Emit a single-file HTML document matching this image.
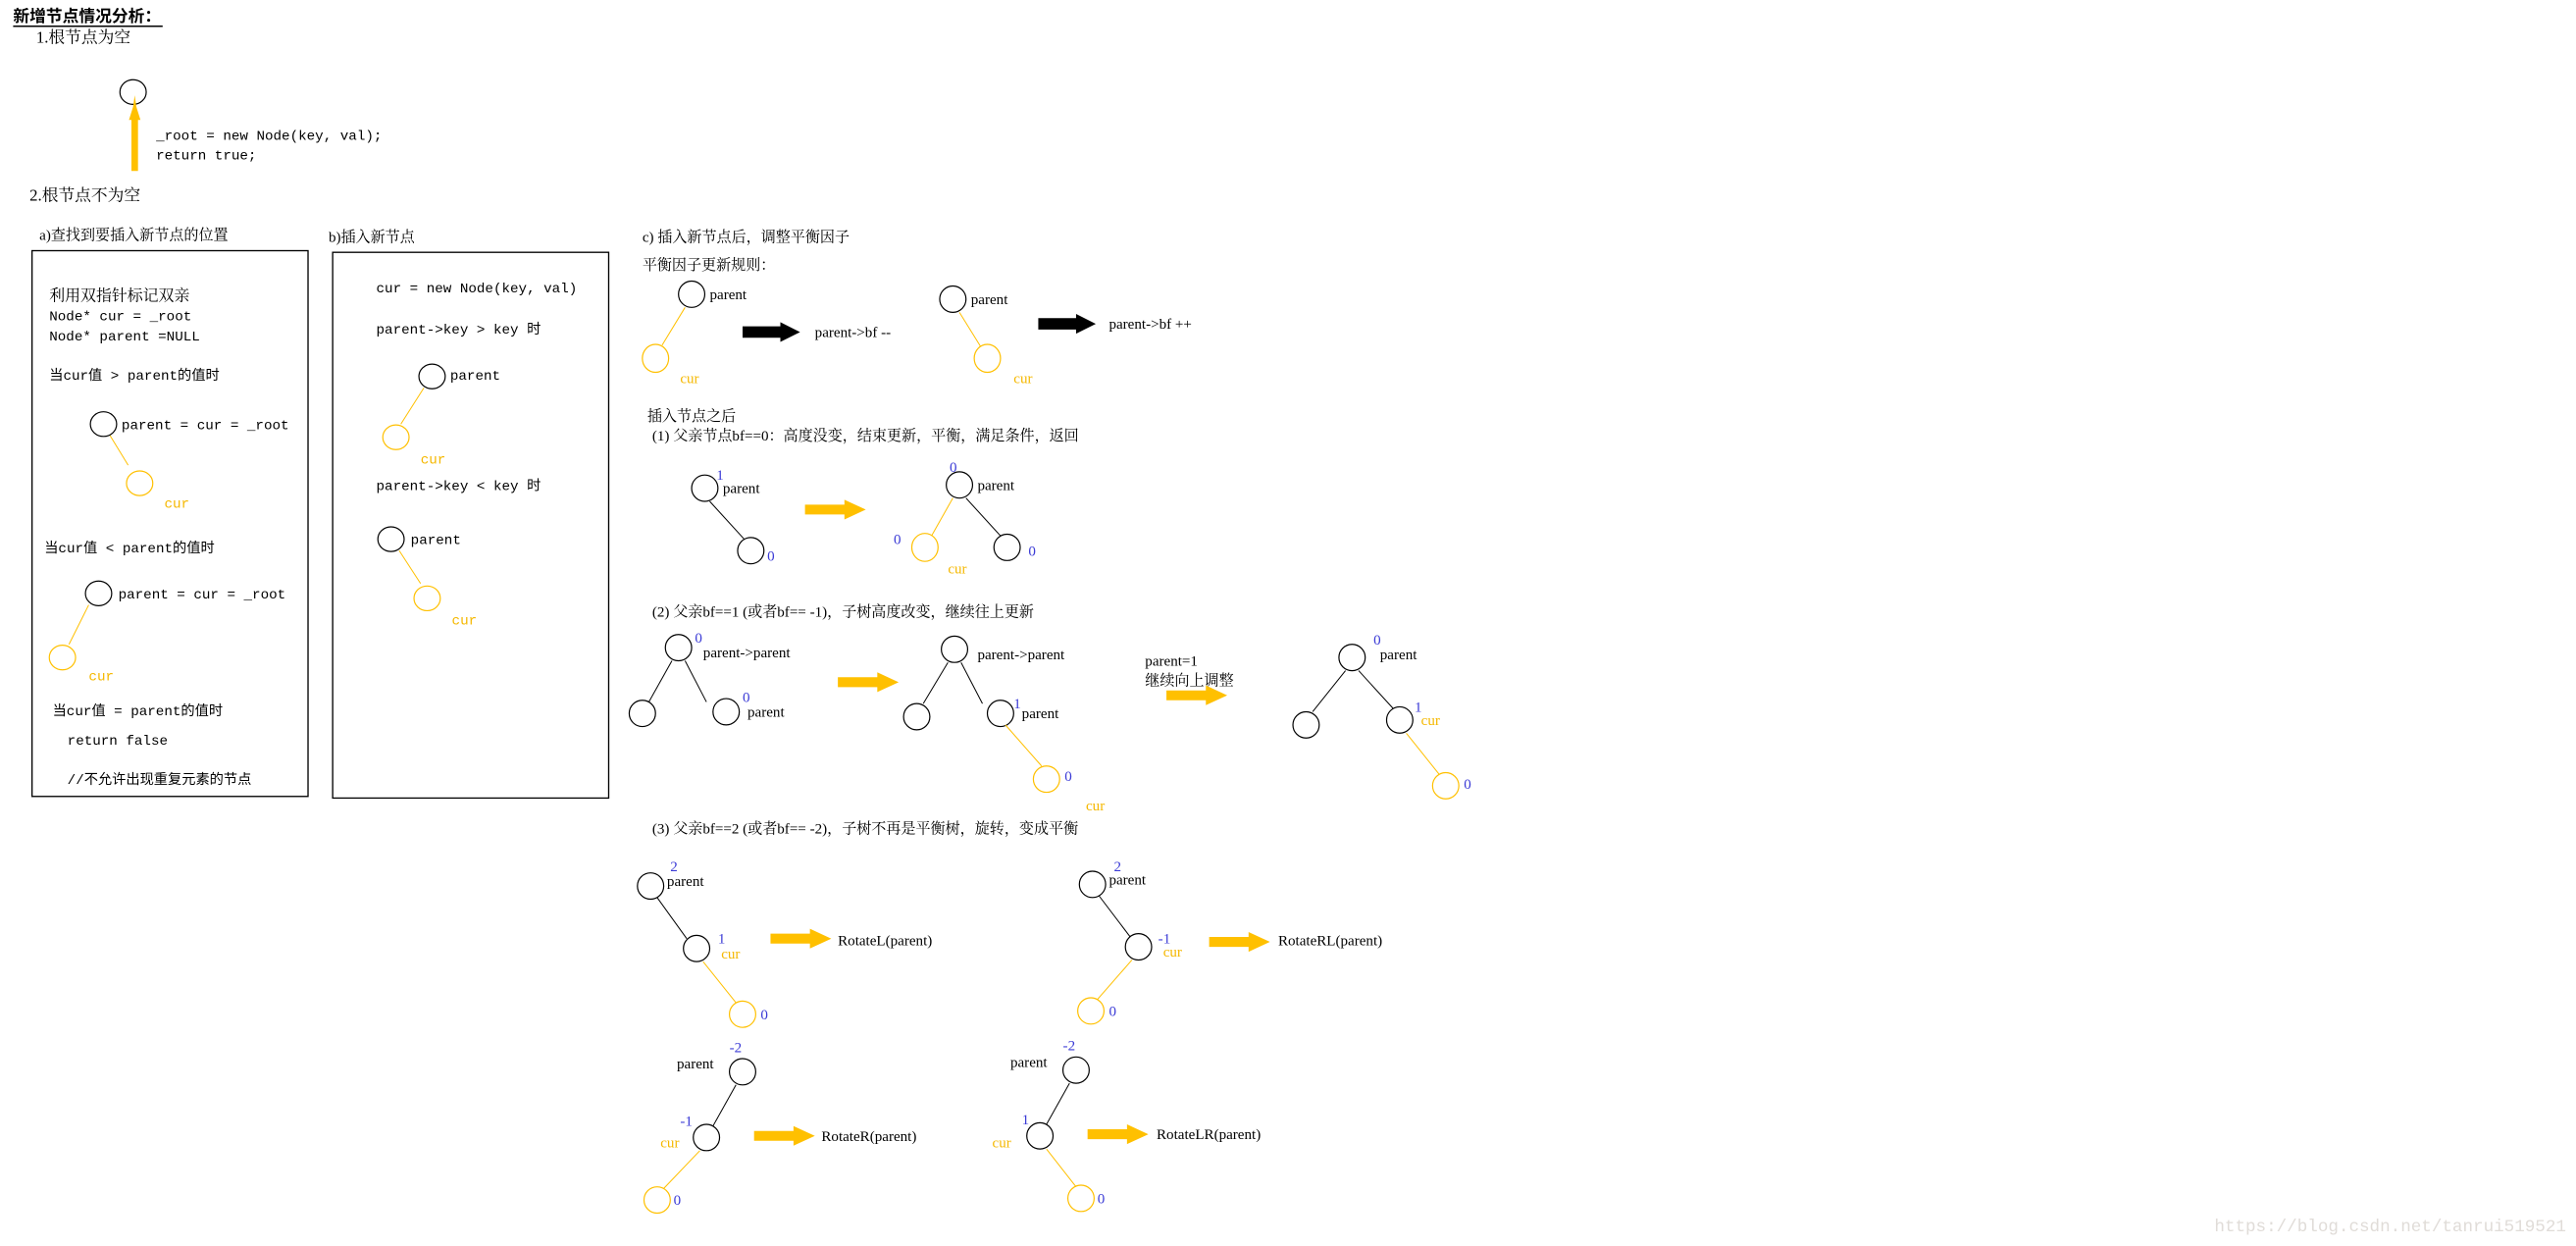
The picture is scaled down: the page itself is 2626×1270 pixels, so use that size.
<!DOCTYPE html>
<html><head><meta charset="utf-8">
<style>
html,body{margin:0;padding:0;background:#fff;}
svg{display:block;}
text{font-family:"Liberation Serif","Noto Serif CJK SC","Noto Sans CJK SC",serif;font-size:9px;fill:#000;}
.m{font-family:"Liberation Mono","Noto Sans CJK SC",monospace;font-size:8.5px;}
.y{fill:#f5b800;}
.b{fill:#3b3bd6;}
.n{fill:none;stroke:#000;stroke-width:1.2;vector-effect:non-scaling-stroke;}
.ny{fill:none;stroke:#ffc000;stroke-width:1.2;vector-effect:non-scaling-stroke;}
.l{stroke:#000;stroke-width:1;vector-effect:non-scaling-stroke;}
.ly{stroke:#ffc000;stroke-width:1;vector-effect:non-scaling-stroke;}
.ya{fill:#ffc000;}
</style></head><body>
<svg width="2626" height="1270" viewBox="0 0 1568 758" preserveAspectRatio="none" xmlns="http://www.w3.org/2000/svg">
<defs>
<g id="yarr"><path d="M0,-3 H24 V-6 L37,0 L24,6 V3 H0 Z"/></g>
<g id="barr"><path d="M0,-3.5 H23 V-6 L35,0 L23,6 V3.5 H0 Z"/></g>
</defs>

<text x="8" y="13" style="font-weight:bold;font-size:10px;font-family:'Noto Sans CJK SC',sans-serif">新增节点情况分析：</text>
<line x1="8" y1="16" x2="99" y2="16" stroke="#000" stroke-width="0.9"/>
<text x="22" y="26" style="font-size:10px">1.根节点为空</text>
<ellipse class="n" cx="81" cy="56" rx="8" ry="7.5"/>
<path class="ya" d="M80,104 H84 V73 H85.5 L83,65 L82,58 L81,65 L78.5,73 H80 Z"/>
<text class="m" x="95" y="85">_root = new Node(key, val);</text>
<text class="m" x="95" y="97">return true;</text>
<text x="18" y="122" style="font-size:10px">2.根节点不为空</text>

<text x="24" y="146">a)查找到要插入新节点的位置</text>
<rect x="19.5" y="152.5" width="168" height="332" fill="none" stroke="#000" stroke-width="0.8"/>
<text x="30" y="183" style="font-size:9.5px">利用双指针标记双亲</text>
<text class="m" x="30" y="195">Node* cur = _root</text>
<text class="m" x="30" y="207">Node* parent =NULL</text>
<text class="m" x="30" y="231">当cur值 &gt; parent的值时</text>
<ellipse class="n" cx="63" cy="258" rx="8" ry="7.5"/>
<text class="m" x="74" y="261">parent = cur = _root</text>
<line class="ly" x1="67" y1="265" x2="78" y2="283"/>
<ellipse class="ny" cx="85" cy="294" rx="8" ry="7.5"/>
<text class="m y" x="100" y="309">cur</text>
<text class="m" x="27" y="336">当cur值 &lt; parent的值时</text>
<ellipse class="n" cx="60" cy="361" rx="8" ry="7.5"/>
<text class="m" x="72" y="364">parent = cur = _root</text>
<line class="ly" x1="54" y1="368" x2="42" y2="392"/>
<ellipse class="ny" cx="38" cy="400" rx="8" ry="7.5"/>
<text class="m y" x="54" y="414">cur</text>
<text class="m" x="32" y="435">当cur值 = parent的值时</text>
<text class="m" x="41" y="453">return false</text>
<text class="m" x="41" y="477">//不允许出现重复元素的节点</text>

<text x="200" y="147">b)插入新节点</text>
<rect x="202.5" y="153.5" width="168" height="332" fill="none" stroke="#000" stroke-width="0.8"/>
<text class="m" x="229" y="178">cur = new Node(key, val)</text>
<text class="m" x="229" y="203">parent-&gt;key &gt; key 时</text>
<ellipse class="n" cx="263" cy="229" rx="8" ry="7.5"/>
<text class="m" x="274" y="231">parent</text>
<line class="ly" x1="258" y1="236" x2="244" y2="258"/>
<ellipse class="ny" cx="241" cy="266" rx="8" ry="7.5"/>
<text class="m y" x="256" y="282">cur</text>
<text class="m" x="229" y="298">parent-&gt;key &lt; key 时</text>
<ellipse class="n" cx="238" cy="328" rx="8" ry="7.5"/>
<text class="m" x="250" y="331">parent</text>
<line class="ly" x1="243" y1="335" x2="256" y2="355"/>
<ellipse class="ny" cx="260" cy="364" rx="8" ry="7.5"/>
<text class="m y" x="275" y="380">cur</text>

<text x="391" y="147">c) 插入新节点后，调整平衡因子</text>
<text x="391" y="164">平衡因子更新规则：</text>
<ellipse class="n" cx="421" cy="179" rx="8" ry="8"/>
<text x="432" y="182">parent</text>
<line class="ly" x1="417" y1="187" x2="403" y2="210"/>
<ellipse class="ny" cx="399" cy="218" rx="8" ry="8.5"/>
<text class="y" x="414" y="233">cur</text>
<use href="#barr" x="452" y="202"/>
<text x="496" y="205">parent-&gt;bf --</text>
<ellipse class="n" cx="580" cy="182" rx="8" ry="8"/>
<text x="591" y="185">parent</text>
<line class="ly" x1="584" y1="190" x2="597" y2="211"/>
<ellipse class="ny" cx="601" cy="218" rx="8" ry="8.5"/>
<text class="y" x="617" y="233">cur</text>
<use href="#barr" x="632" y="197"/>
<text x="675" y="200">parent-&gt;bf ++</text>

<text x="394" y="256">插入节点之后</text>
<text x="397" y="268">(1) 父亲节点bf==0：高度没变，结束更新，平衡，满足条件，返回</text>
<ellipse class="n" cx="429" cy="297" rx="8" ry="8"/>
<text class="b" x="436" y="292">1</text>
<text x="440" y="300">parent</text>
<line class="l" x1="432" y1="305" x2="453" y2="328"/>
<ellipse class="n" cx="457" cy="335" rx="8" ry="8"/>
<text class="b" x="467" y="341">0</text>
<use href="#yarr" class="ya" x="490" y="310"/>
<text class="b" x="578" y="287">0</text>
<ellipse class="n" cx="584" cy="295" rx="8" ry="8"/>
<text x="595" y="298">parent</text>
<line class="ly" x1="580" y1="303" x2="567" y2="326"/>
<line class="l" x1="588" y1="303" x2="609" y2="326"/>
<ellipse class="ny" cx="563" cy="333" rx="8" ry="8.5"/>
<text class="b" x="544" y="331">0</text>
<text class="y" x="577" y="349">cur</text>
<ellipse class="n" cx="613" cy="333" rx="8" ry="8"/>
<text class="b" x="626" y="338">0</text>

<text x="397" y="375">(2) 父亲bf==1 (或者bf== -1)，子树高度改变，继续往上更新</text>
<ellipse class="n" cx="413" cy="394" rx="8" ry="8"/>
<text class="b" x="423" y="391">0</text>
<text x="428" y="400">parent-&gt;parent</text>
<line class="l" x1="409" y1="402" x2="395" y2="427"/>
<line class="l" x1="417" y1="402" x2="430" y2="427"/>
<ellipse class="n" cx="391" cy="434" rx="8" ry="8"/>
<ellipse class="n" cx="442" cy="433" rx="8" ry="8"/>
<text class="b" x="452" y="427">0</text>
<text x="455" y="436">parent</text>
<use href="#yarr" class="ya" x="510" y="415"/>
<ellipse class="n" cx="581" cy="395" rx="8" ry="8"/>
<text x="595" y="401">parent-&gt;parent</text>
<line class="l" x1="577" y1="403" x2="562" y2="428"/>
<line class="l" x1="585" y1="403" x2="598" y2="428"/>
<ellipse class="n" cx="558" cy="436" rx="8" ry="8"/>
<ellipse class="n" cx="609" cy="434" rx="8" ry="8"/>
<text class="b" x="617" y="431">1</text>
<text x="622" y="437">parent</text>
<line class="ly" x1="612" y1="441" x2="634" y2="466"/>
<ellipse class="ny" cx="637" cy="474" rx="8" ry="8"/>
<text class="b" x="648" y="475">0</text>
<text class="y" x="661" y="493">cur</text>
<text x="697" y="405">parent=1</text>
<text x="697" y="417">继续向上调整</text>
<use href="#yarr" class="ya" x="710" y="423"/>
<ellipse class="n" cx="823" cy="400" rx="8" ry="8"/>
<text class="b" x="836" y="392">0</text>
<text x="840" y="401">parent</text>
<line class="l" x1="819" y1="408" x2="799" y2="433"/>
<line class="l" x1="827" y1="408" x2="848" y2="431"/>
<ellipse class="n" cx="795" cy="441" rx="8" ry="8"/>
<ellipse class="n" cx="852" cy="438" rx="8" ry="8"/>
<text class="b" x="861" y="433">1</text>
<text class="y" x="865" y="441">cur</text>
<line class="ly" x1="856" y1="446" x2="876" y2="471"/>
<ellipse class="ny" cx="880" cy="478" rx="8" ry="8"/>
<text class="b" x="891" y="480">0</text>

<text x="397" y="507">(3) 父亲bf==2 (或者bf== -2)，子树不再是平衡树，旋转，变成平衡</text>
<text class="b" x="408" y="530">2</text>
<ellipse class="n" cx="396" cy="539" rx="8" ry="8"/>
<text x="406" y="539">parent</text>
<line class="l" x1="400" y1="546" x2="418" y2="571"/>
<ellipse class="n" cx="424" cy="577" rx="8" ry="8"/>
<text class="b" x="437" y="574">1</text>
<text class="y" x="439" y="583">cur</text>
<line class="ly" x1="428" y1="585" x2="448" y2="610"/>
<ellipse class="ny" cx="452" cy="617" rx="8" ry="8"/>
<text class="b" x="463" y="620">0</text>
<use href="#yarr" class="ya" x="469" y="571"/>
<text x="510" y="575">RotateL(parent)</text>

<text class="b" x="678" y="530">2</text>
<ellipse class="n" cx="665" cy="538" rx="8" ry="8"/>
<text x="675" y="538">parent</text>
<line class="l" x1="669" y1="545" x2="688" y2="570"/>
<ellipse class="n" cx="693" cy="576" rx="8" ry="8"/>
<text class="b" x="705" y="574">-1</text>
<text class="y" x="708" y="582">cur</text>
<line class="ly" x1="689" y1="584" x2="668" y2="608"/>
<ellipse class="ny" cx="664" cy="615" rx="8" ry="8"/>
<text class="b" x="675" y="618">0</text>
<use href="#yarr" class="ya" x="736" y="573"/>
<text x="778" y="575">RotateRL(parent)</text>

<text class="b" x="444" y="640">-2</text>
<text x="412" y="650">parent</text>
<ellipse class="n" cx="452" cy="652" rx="8" ry="8"/>
<line class="l" x1="448" y1="660" x2="434" y2="685"/>
<ellipse class="n" cx="430" cy="692" rx="8" ry="8"/>
<text class="b" x="414" y="685">-1</text>
<text class="y" x="402" y="698">cur</text>
<line class="ly" x1="426" y1="700" x2="404" y2="723"/>
<ellipse class="ny" cx="400" cy="730" rx="8" ry="8"/>
<text class="b" x="410" y="733">0</text>
<use href="#yarr" class="ya" x="459" y="691"/>
<text x="500" y="694">RotateR(parent)</text>

<text class="b" x="647" y="639">-2</text>
<text x="615" y="649">parent</text>
<ellipse class="n" cx="655" cy="651" rx="8" ry="8"/>
<line class="l" x1="651" y1="659" x2="637" y2="684"/>
<ellipse class="n" cx="633" cy="691" rx="8" ry="8"/>
<text class="b" x="622" y="684">1</text>
<text class="y" x="604" y="698">cur</text>
<line class="ly" x1="637" y1="699" x2="655" y2="722"/>
<ellipse class="ny" cx="658" cy="729" rx="8" ry="8"/>
<text class="b" x="668" y="732">0</text>
<use href="#yarr" class="ya" x="662" y="690"/>
<text x="704" y="693">RotateLR(parent)</text>

<text x="1562" y="749" text-anchor="end" style="fill:#e0dcd8;font-size:10.5px;font-family:'Liberation Mono',monospace">https://blog.csdn.net/tanrui519521</text>
</svg>
</body></html>
